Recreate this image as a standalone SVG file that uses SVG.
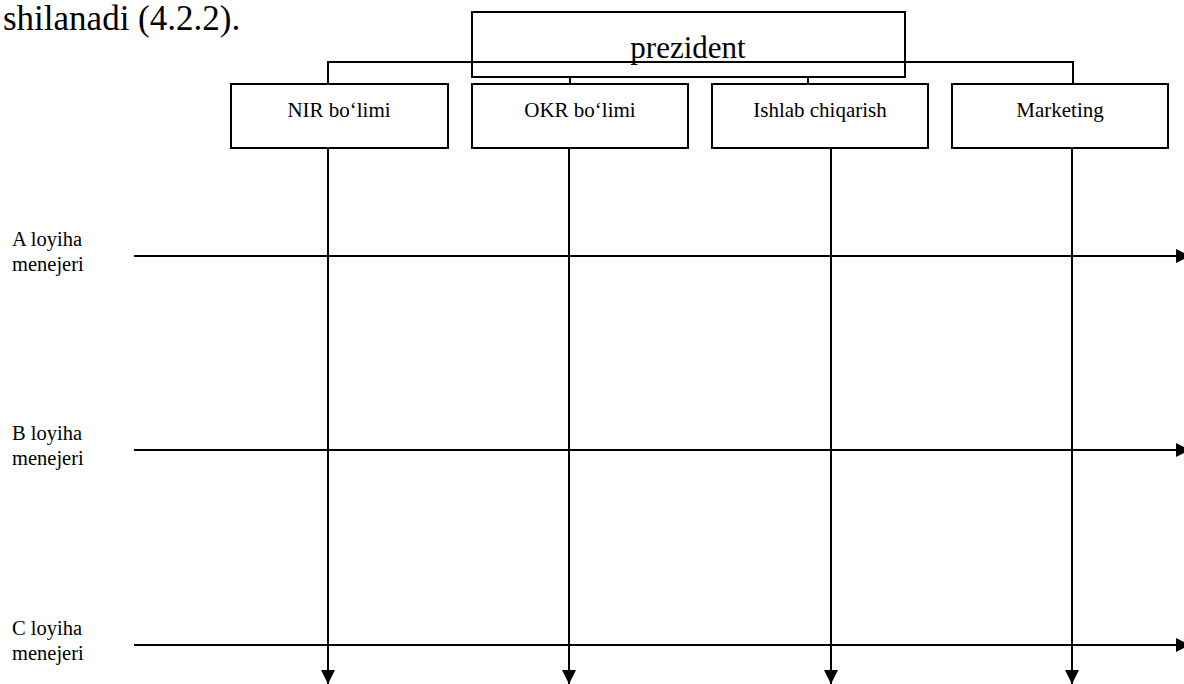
<svg xmlns="http://www.w3.org/2000/svg" width="1184" height="684" viewBox="0 0 1184 684">
  <style>
    .box { fill: #fff; stroke: #000; stroke-width: 2; }
    .frame { fill: none; stroke: #000; stroke-width: 2; }
    .ln { fill: none; stroke: #000; stroke-width: 2; }
    .t { font-family: "Liberation Serif", "Times New Roman", serif; fill: #000; }
    .lbl { font-size: 20.5px; }
    .dep { font-size: 21px; text-anchor: middle; }
  </style>
  <defs>
    <marker id="arr" viewBox="0 0 10 10" refX="10" refY="5" markerWidth="14" markerHeight="14" markerUnits="userSpaceOnUse" orient="auto">
      <path d="M0,0 L10,5 L0,10 Z" fill="#000"/>
    </marker>
  </defs>
  <rect width="1184" height="684" fill="#fff"/>

  <text class="t" x="3" y="30" font-size="35">shilanadi (4.2.2).</text>

  <!-- connectors: president bus, department columns and project rows -->
  <g id="connectors">
    <path class="ln" d="M328,84 V62 H1073 V84"/>
    <path class="ln" d="M570,77 V84"/>
    <path class="ln" d="M808,77 V84"/>
    <path class="ln" d="M328,148 V684" marker-end="url(#arr)"/>
    <path class="ln" d="M569,148 V684" marker-end="url(#arr)"/>
    <path class="ln" d="M831,148 V684" marker-end="url(#arr)"/>
    <path class="ln" d="M1072,148 V684" marker-end="url(#arr)"/>
    <path class="ln" d="M134,256 H1190" marker-end="url(#arr)"/>
    <path class="ln" d="M134,450 H1190" marker-end="url(#arr)"/>
    <path class="ln" d="M134,645 H1190" marker-end="url(#arr)"/>
  </g>

  <g id="president">
    <rect class="frame" x="472" y="12" width="433" height="65"/>
    <text class="t" x="688" y="58" font-size="31" text-anchor="middle">prezident</text>
  </g>

  <g id="nir">
    <rect class="box" x="231" y="84" width="217" height="64"/>
    <text class="t dep" x="339" y="117">NIR bo‘limi</text>
  </g>
  <g id="okr">
    <rect class="box" x="472" y="84" width="216" height="64"/>
    <text class="t dep" x="580" y="117">OKR bo‘limi</text>
  </g>
  <g id="ishlab">
    <rect class="box" x="712" y="84" width="216" height="64"/>
    <text class="t dep" x="820" y="117">Ishlab chiqarish</text>
  </g>
  <g id="marketing">
    <rect class="box" x="952" y="84" width="216" height="64"/>
    <text class="t dep" x="1060" y="117">Marketing</text>
  </g>

  <g id="manager-a">
    <text class="t lbl" x="12" y="246">A loyiha</text>
    <text class="t lbl" x="12" y="271">menejeri</text>
  </g>
  <g id="manager-b">
    <text class="t lbl" x="12" y="440">B loyiha</text>
    <text class="t lbl" x="12" y="465">menejeri</text>
  </g>
  <g id="manager-c">
    <text class="t lbl" x="12" y="635">C loyiha</text>
    <text class="t lbl" x="12" y="660">menejeri</text>
  </g>
</svg>
